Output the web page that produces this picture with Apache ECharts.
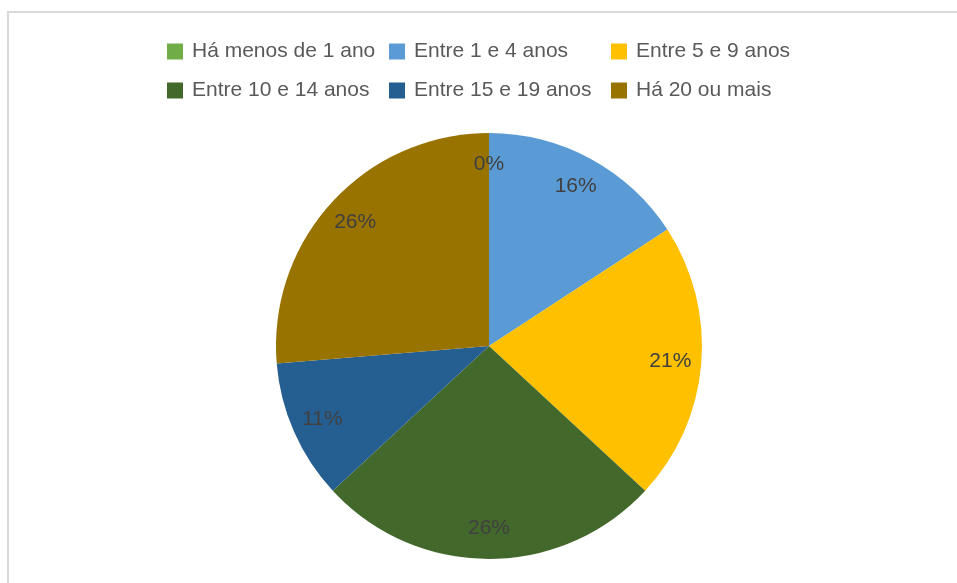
<!DOCTYPE html>
<html>
<head>
<meta charset="utf-8">
<script src="https://cdn.jsdelivr.net/npm/echarts@6/dist/echarts.min.js"></script>
<style>
  html, body { margin: 0; padding: 0; background: #fff; }
  #chart { width: 957px; height: 583px; }
</style>
</head>
<body>
<div id="chart"></div>
<script>
var categories = ['Há menos de 1 ano', 'Entre 1 e 4 anos', 'Entre 5 e 9 anos',
  'Entre 10 e 14 anos', 'Entre 15 e 19 anos', 'Há 20 ou mais'];
var shares = [0, 15.8, 21.1, 26.2, 10.6, 26.3];
var colors = ['#70AD47', '#5B9BD5', '#FFC000', '#43682B', '#255E91', '#997300'];

var pieData = categories.map(function (name, i) {
  return { name: name, value: shares[i] };
});

var font = 'Liberation Sans';
var myChart = echarts.init(document.getElementById('chart'));
var option = {
  animation: false,
  color: colors,
  graphic: [{
    type: 'rect',
    shape: { x: 8, y: 12, width: 1200, height: 1200 },
    style: { fill: 'none', stroke: '#d9d9d9', lineWidth: 2 },
    silent: true
  }],
  legend: {
    data: categories,
    left: 167,
    top: 32,
    padding: 0,
    width: 680,
    itemWidth: 16,
    itemHeight: 16,
    itemGap: 0,
    icon: 'rect',
    selectedMode: false,
    textStyle: {
      fontFamily: font,
      fontSize: 21,
      color: '#595959',
      width: 197,
      lineHeight: 39,
      padding: [0, 0, 0, 4]
    }
  },
  series: [
    {
      name: 'pie',
      type: 'pie',
      center: [489, 346],
      radius: [0, 213],
      startAngle: 90,
      clockwise: true,
      silent: true,
      label: { show: false },
      labelLine: { show: false },
      data: pieData
    },
    {
      // transparent copy, only to place labels near the rim
      name: 'labels',
      type: 'pie',
      center: [489, 346],
      radius: [0, 358],
      startAngle: 90,
      clockwise: true,
      silent: true,
      itemStyle: { color: 'transparent' },
      label: {
        show: true,
        position: 'inside',
        fontFamily: font,
        fontSize: 21,
        color: '#404040',
        formatter: function (p) { return Math.round(p.percent) + '%'; }
      },
      labelLine: { show: false },
      data: pieData
    }
  ]
};
myChart.setOption(option);
</script>
</body>
</html>
